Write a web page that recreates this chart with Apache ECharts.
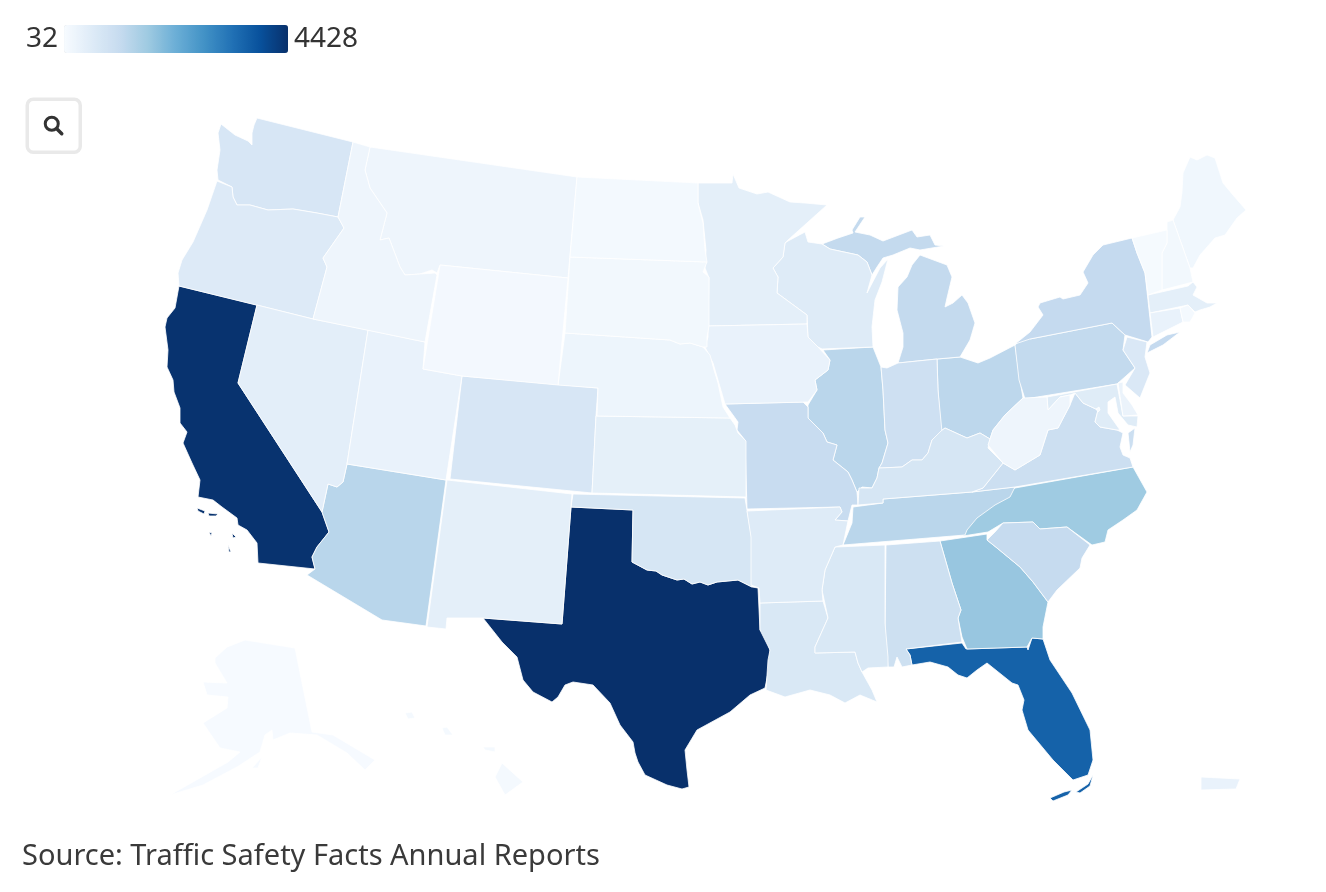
<!DOCTYPE html>
<html>
<head>
<meta charset="utf-8">
<title>Traffic fatalities by state</title>
<script src="https://cdn.jsdelivr.net/npm/echarts@6/dist/echarts.min.js"></script>
<style>
  html, body { margin: 0; padding: 0; background: #fff; }
  #main { width: 1326px; height: 892px; }
</style>
</head>
<body>
<div id="main"></div>
<script>
// values
const stateNames = ['California','Texas','Florida','Georgia','North Carolina','Arizona','Illinois','Tennessee','Ohio','Pennsylvania','New York','Michigan','Missouri','South Carolina','Alabama','Indiana','Virginia','Kentucky','Louisiana','Mississippi','Washington','Oregon','Colorado','Oklahoma','Arkansas','Wisconsin','New Jersey','Maryland','Nevada','New Mexico','Kansas','Minnesota','Massachusetts','Iowa','Utah','Connecticut','Nebraska','Montana','Idaho','West Virginia','South Dakota','Wyoming','North Dakota','Maine','New Hampshire','Vermont','Rhode Island','Delaware','Alaska','Hawaii','Puerto Rico','District of Columbia']
const stateValues = [4380,4428,3593,1750,1660,1305,1290,1290,1250,1175,1150,1155,1090,1130,970,955,1000,765,690,690,750,600,750,755,580,580,680,560,470,450,425,450,450,340,340,330,250,240,230,230,140,120,115,185,140,70,100,290,60,100,330,32]
const legendLabels = ['4428', '32']
const scaleMin = 32
const scaleMax = 4428
const blues = ['#f7fbff','#deebf7','#c6dbef','#9ecae1','#6baed6','#4292c6','#2171b5','#08519c','#08306b']
const sourceText = 'Source: Traffic Safety Facts Annual Reports'

// state outlines, already projected, one string per ring
const stateShapes = {
  'Washington': ['221,124 235,135 248,141 252,145 252,133 254,125 257,118 353,142 338,217 317,213 293,209 268,210 250,205 237,205 233,197 232,187 218,180 217,170 220,150 218,133'],
  'Oregon': ['217,181 232,187 233,197 237,205 250,205 268,210 293,209 317,213 338,217 344,228 323,258 327,267 313,319 179,286 178,273 182,260 193,242 207,210'],
  'Idaho': ['353,142 370,147 365,170 370,188 387,213 380,240 389,238 400,267 405,275 435,273 437,275 425,342 313,319 327,267 323,258 344,228 338,217'],
  'Montana': ['370,147 577,177 568,278 440,265 437,273 432,270 420,274 405,275 400,267 389,238 380,240 387,213 370,188 365,170'],
  'Wyoming': ['440,265 568,278 558,385 462,376 423,369'],
  'North Dakota': ['577,177 698,183 698,203 703,223 705,250 707,262 570,257'],
  'South Dakota': ['570,257 707,262 703,272 709,277 709,326 707,337 707,347 703,347 690,343 680,344 670,340 565,333'],
  'Nebraska': ['565,333 670,340 680,344 690,343 703,347 710,355 714,370 718,383 723,407 730,418 597,416 598,388 558,385'],
  'Iowa': ['708,326 807,324 808,337 818,347 830,360 828,370 815,380 817,390 808,402 725,404 720,387 713,363 705,347 708,337'],
  'Minnesota': ['698,183 732,183 733,174 739,188 757,194 768,192 790,202 805,203 827,205 788,240 785,243 783,257 773,268 778,277 777,293 807,315 807,324 708,326 709,278 705,268 706,250 703,220 698,203'],
  'Wisconsin': ['788,241 805,232 808,242 822,244 830,249 858,255 867,262 872,275 867,293 880,268 888,259 882,282 875,300 872,327 873,347 822,349 818,347 808,337 807,315 777,293 778,277 773,268 783,257 785,243'],
  'Michigan': ['822,244 838,238 853,233 852,230 860,217 865,217 855,232 870,235 883,241 912,230 917,237 930,235 935,245 944,246 920,250 910,248 893,255 883,258 877,267 872,275 867,262 858,255 830,249',
    '920,255 947,265 952,277 947,298 945,307 953,303 962,295 968,303 975,323 970,340 960,357 937,359 898,363 903,347 903,333 897,310 898,287 907,277 912,265'],
  'Illinois': ['823,350 873,347 881,367 883,390 885,430 888,443 882,463 879,468 877,478 872,488 862,487 857,492 852,480 848,472 833,460 837,445 827,442 823,433 808,418 808,405 817,390 815,380 828,370 830,360'],
  'Indiana': ['881,367 887,368 898,363 937,359 938,390 942,432 932,440 928,453 922,460 912,460 902,467 883,468 879,468 882,463 888,443 885,430 883,390'],
  'Ohio': ['937,359 960,357 978,363 990,358 1015,345 1020,380 1023,398 1005,415 993,430 990,439 980,433 967,438 945,428 941,431 938,390'],
  'West Virginia': ['1023,398 1047,397 1048,410 1060,397 1070,395 1070,405 1058,428 1048,430 1040,455 1015,470 1003,463 988,445 993,430 1005,415'],
  'Kentucky': ['941,431 945,428 967,438 980,433 990,439 988,448 1003,463 983,488 972,492 883,499 883,503 858,505 859,488 872,488 877,478 879,468 902,467 912,460 922,460 928,453 932,440'],
  'Tennessee': ['853,507 883,503 883,499 972,492 1015,487 1010,497 995,505 977,518 967,530 965,535 843,545 852,523'],
  'Virginia': ['1015,487 1133,467 1130,458 1123,455 1120,447 1123,433 1117,430 1100,427 1095,422 1098,410 1083,403 1075,393 1070,405 1058,428 1048,430 1040,455 1015,470 1003,463 983,488 972,492',
    '1128,433 1135,428 1133,445 1130,452'],
  'North Carolina': ['1015,488 1133,467 1147,492 1137,510 1123,520 1108,530 1105,542 1092,545 1067,527 1040,529 1033,522 1003,523 988,532 963,536 965,530 973,515 993,503'],
  'South Carolina': ['987,540 995,532 1003,523 1033,522 1040,529 1067,527 1090,545 1082,558 1080,568 1057,590 1048,602 1033,582 1020,567 997,548'],
  'Georgia': ['940,541 987,534 987,540 997,548 1020,567 1033,582 1048,602 1043,627 1043,639 1032,638 1027,647 967,649 962,637 958,618 961,610 952,583'],
  'Florida': ['906,649 962,643 966,649 1027,647 1028,650 1032,638 1043,639 1050,660 1072,693 1090,730 1093,760 1088,775 1073,780 1053,760 1043,748 1028,730 1022,710 1024,700 1018,685 1012,683 987,663 977,670 967,678 958,675 948,667 930,662 912,665 910,655',
    '1050,798 1064,792 1072,790 1068,795 1053,801', '1076,792 1088,784 1093,775 1090,786 1080,793'],
  'Alabama': ['886,545 940,541 952,583 961,610 958,618 962,642 906,649 910,655 912,665 902,667 897,657 894,667 888,667 885,630'],
  'Mississippi': ['885,545 835,547 825,570 822,590 828,618 815,647 815,653 855,652 858,663 862,672 868,668 888,667 888,657 885,623'],
  'Arkansas': ['747,511 840,507 842,512 835,520 848,521 843,545 835,547 825,570 822,590 823,601 760,603 759,588 751,585 751,537'],
  'Missouri': ['725,404 803,402 808,407 808,418 823,433 827,442 837,445 833,460 848,472 852,480 857,492 858,505 852,505 848,521 835,520 842,512 840,507 747,509 745,440 737,430 738,422'],
  'Kansas': ['596,416 730,418 735,425 738,433 746,441 746,497 592,493'],
  'Oklahoma': ['573,494 745,498 747,510 752,540 752,587 738,580 717,582 708,585 700,582 692,584 684,579 677,580 662,575 656,571 647,570 632,562 633,510 571,507'],
  'Texas': ['571,507 633,510 632,562 647,570 656,571 662,575 677,580 684,579 692,584 700,582 708,585 717,582 738,580 752,587 758,588 760,630 765,635 770,650 770,663 765,688 750,695 730,712 697,730 685,750 687,770 689,787 682,789 667,785 645,775 638,762 635,753 633,742 620,725 610,703 593,685 573,682 565,685 558,697 552,702 533,692 523,680 517,657 502,642 483,618 562,624'],
  'New Mexico': ['447,480 572,494 571,507 562,624 483,618 447,618 446,629 427,627'],
  'Colorado': ['462,376 598,388 596,416 592,493 450,479'],
  'Arizona': ['347,464 446,480 426,626 382,620 307,575 315,569 312,557 317,547 329,532 322,512 328,484 337,487 343,482'],
  'Nevada': ['257,305 313,319 368,330 347,464 343,482 337,487 328,484 322,512 238,383'],
  'Utah': ['368,330 425,342 423,369 462,376 446,480 347,464'],
  'California': ['179,286 257,305 238,383 322,512 329,532 317,547 312,557 315,569 258,563 257,543 247,530 238,525 237,518 222,507 213,500 198,497 200,480 192,463 183,443 187,432 180,423 180,408 174,392 173,380 167,367 168,350 165,327 167,318 175,308',
    '197,508 205,511 204,514 198,511', '208,513 218,514 216,516 209,516', '209,532 212,533 211,536', '232,533 236,537 233,538', '228,545 231,552 229,552'],
  'New York': ['1132,238 1103,245 1093,255 1083,272 1088,283 1080,295 1063,299 1060,297 1040,303 1038,307 1043,315 1030,332 1015,344 1030,339 1112,323 1125,335 1148,342 1152,337 1145,273 1137,253',
    '1147,353 1150,345 1167,335 1180,332 1163,345'],
  'Pennsylvania': ['1015,345 1029,333 1030,339 1112,323 1125,335 1123,350 1135,368 1117,384 1025,399 1019,380'],
  'New Jersey': ['1127,337 1147,342 1145,357 1150,373 1140,398 1125,385 1135,368 1123,350'],
  'Delaware': ['1118,383 1123,382 1123,393 1132,405 1138,415 1123,416'],
  'Maryland': ['1047,397 1117,384 1123,416 1138,416 1137,427 1128,425 1118,413 1115,397 1108,402 1108,413 1120,430 1117,430 1100,427 1095,422 1098,410 1083,403 1075,393 1070,395 1060,397 1048,410'],
  'District of Columbia': ['1096,409 1099,407 1100,410 1098,412'],
  'Vermont': ['1132,238 1167,230 1167,243 1162,253 1162,290 1148,295 1145,273 1137,253'],
  'New Hampshire': ['1167,222 1173,220 1190,268 1193,282 1162,290 1162,253 1167,243'],
  'Maine': ['1173,220 1180,207 1182,192 1183,173 1190,157 1197,160 1207,155 1215,158 1223,183 1233,195 1246,210 1237,218 1225,235 1215,238 1200,255 1193,268 1190,268'],
  'Massachusetts': ['1148,295 1188,286 1193,282 1197,287 1193,295 1207,303 1217,303 1210,307 1200,310 1195,312 1188,305 1150,313'],
  'Rhode Island': ['1180,308 1188,305 1195,313 1190,322 1183,322'],
  'Connecticut': ['1150,313 1180,308 1183,322 1153,337'],
  'Louisiana': ['760,603 823,601 828,618 815,647 815,653 855,652 858,663 862,672 872,690 877,702 860,695 845,703 830,695 810,690 785,697 766,690 768,660 770,650 760,630'],
  'Alaska': ['215,658 227,647 245,640 295,648 312,732 333,735 375,760 365,770 347,753 317,735 290,733 273,740 272,730 265,735 260,752 237,767 203,785 170,795 228,762 240,752 220,748 203,723 227,708 228,697 207,695 203,682 227,683 215,663',
    '252,768 262,757 258,768'],
  'Hawaii': ['495,777 502,763 523,782 505,795', '483,747 495,747 495,752 485,750', '442,728 447,727 453,735 445,735', '405,713 412,712 415,718 408,719'],
  'Puerto Rico': ['1201,777 1240,779 1236,789 1201,790']
}

function parseRing(text) {
  return text.split(' ').map(p => p.split(',').map(Number))
}

const usGeo = {
  type: 'FeatureCollection',
  features: stateNames.map(name => ({
    type: 'Feature',
    properties: { name: name },
    geometry: { type: 'MultiPolygon', coordinates: stateShapes[name].map(r => [parseRing(r)]) }
  }))
}

// picture extent of all the rings, so the map lands where the outlines say
let allPts = []
stateNames.forEach(n => stateShapes[n].forEach(r => { allPts = allPts.concat(parseRing(r)) }))
const xs = allPts.map(p => p[0])
const ys = allPts.map(p => p[1])
const minX = Math.min(...xs), maxX = Math.max(...xs)
const minY = Math.min(...ys), maxY = Math.max(...ys)

echarts.registerMap('USA', usGeo)

const myChart = echarts.init(document.getElementById('main'))
const uiFont = '"Noto Sans", sans-serif'

const option = {
  animation: false,
  title: {
    text: sourceText,
    left: 17,
    top: 837,
    textStyle: { fontFamily: uiFont, fontSize: 29, fontWeight: 'normal', color: '#3a3a3a' }
  },
  visualMap: {
    type: 'continuous',
    min: scaleMin,
    max: scaleMax,
    orient: 'horizontal',
    left: 11,
    top: 10,
    itemWidth: 28,
    itemHeight: 224,
    text: legendLabels,
    textGap: 6,
    calculable: false,
    realtime: false,
    hoverLink: false,
    seriesIndex: 0,
    inRange: { color: blues },
    textStyle: { fontFamily: uiFont, fontSize: 28, color: '#333' }
  },
  graphic: [
    {
      type: 'group',
      left: 25.5,
      top: 97.5,
      children: [
        { type: 'rect', shape: { x: 0, y: 0, width: 53, height: 53, r: 6 }, style: { fill: '#fff', stroke: '#e9e9e9', lineWidth: 3.5 } },
        { type: 'circle', shape: { cx: 24.5, cy: 24.5, r: 6.5 }, style: { fill: 'none', stroke: '#333', lineWidth: 3 } },
        { type: 'line', shape: { x1: 29.5, y1: 29.5, x2: 34.5, y2: 34.5 }, style: { stroke: '#333', lineWidth: 3.5, lineCap: 'round' } }
      ]
    }
  ],
  series: [
    {
      type: 'map',
      map: 'USA',
      projection: {
        project: p => [p[0], p[1]],
        unproject: p => [p[0], p[1]]
      },
      left: minX,
      top: minY,
      width: maxX - minX,
      height: maxY - minY,
      roam: false,
      silent: true,
      selectedMode: false,
      label: { show: false },
      itemStyle: { borderColor: 'rgba(255,255,255,0.8)', borderWidth: 1, areaColor: '#f7fbff' },
      data: stateNames.map((n, i) => ({ name: n, value: stateValues[i] }))
    }
  ]
}

option && myChart.setOption(option)
</script>
</body>
</html>
